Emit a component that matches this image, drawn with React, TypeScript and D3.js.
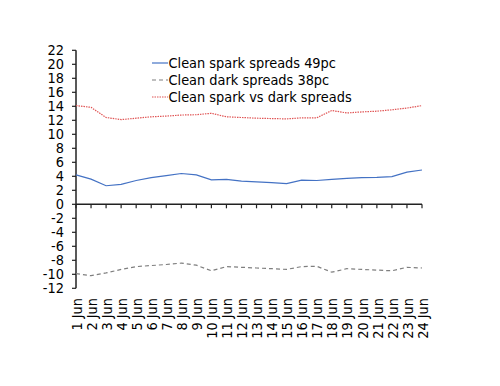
import React from "react";
import * as d3 from "d3";

const categories = ["1 Jun","2 Jun","3 Jun","4 Jun","5 Jun","6 Jun","7 Jun","8 Jun","9 Jun","10 Jun","11 Jun","12 Jun","13 Jun","14 Jun","15 Jun","16 Jun","17 Jun","18 Jun","19 Jun","20 Jun","21 Jun","22 Jun","23 Jun","24 Jun"];
const sparkSpreads = [4.2,3.6,2.65,2.85,3.4,3.8,4.1,4.4,4.2,3.5,3.55,3.3,3.2,3.1,2.95,3.45,3.4,3.55,3.7,3.8,3.85,3.95,4.6,4.9];
const darkSpreads = [-9.9,-10.2,-9.8,-9.3,-8.9,-8.75,-8.6,-8.4,-8.7,-9.5,-8.9,-9.0,-9.1,-9.2,-9.3,-8.9,-8.85,-9.7,-9.2,-9.3,-9.4,-9.5,-9.0,-9.1];
const sparkVsDark = [14.1,13.85,12.4,12.1,12.3,12.5,12.6,12.75,12.8,13.0,12.5,12.4,12.3,12.25,12.2,12.35,12.35,13.4,13.05,13.2,13.3,13.5,13.75,14.1];
const yTicks = d3.range(-12, 23, 2);
const seriesNames = ["Clean spark spreads 49pc","Clean dark spreads 38pc","Clean spark vs dark spreads"];

const FONT = "'DejaVu Sans Condensed', 'DejaVu Sans', sans-serif";
const FS = 14.4;

export default function App() {
  const x = d3.scalePoint<string>().domain(categories).range([76, 422]);
  const y = d3.scaleLinear().domain([-12, 22]).range([288.3, 50.3]);
  const line = d3.line<number>().x((_, i) => x(categories[i]) as number).y((d) => y(d));
  const series = [
    { name: seriesNames[0], data: sparkSpreads, color: "#4472C4", dash: undefined, w: 1.2 },
    { name: seriesNames[1], data: darkSpreads, color: "#7f7f7f", dash: "4,3", w: 1.2 },
    { name: seriesNames[2], data: sparkVsDark, color: "#e05555", dash: "1.5,1", w: 1.2 },
  ];
  const axisColor = "#222";
  return (
    <svg width={500} height={386} style={{ position: "absolute", left: 0, top: 0, background: "#fff" }} fontFamily={FONT} fontStretch="condensed">
      {/* y axis */}
      <line x1={76} x2={76} y1={y(22)} y2={y(-12)} stroke={axisColor} strokeWidth={1.5} />
      {yTicks.map((t) => (
        <g key={t}>
          <line x1={72} x2={76} y1={y(t)} y2={y(t)} stroke={axisColor} strokeWidth={1.2} />
          <text x={64} y={y(t)} dy="0.36em" textAnchor="end" fontSize={FS} fill="#000">{t}</text>
        </g>
      ))}
      {/* x axis at zero */}
      <line x1={76} x2={422} y1={y(0)} y2={y(0)} stroke={axisColor} strokeWidth={1.5} />
      {categories.map((c) => (
        <g key={c}>
          <line x1={x(c)} x2={x(c)} y1={y(0)} y2={y(0) + 4} stroke={axisColor} strokeWidth={1.2} />
          <text transform={`translate(${(x(c) as number) + 0.5},298) rotate(-90)`} dy="0.36em" textAnchor="end" fontSize={FS} fill="#000">{c}</text>
        </g>
      ))}
      {series.map((s) => (
        <path key={s.name} d={line(s.data) || ""} fill="none" stroke={s.color} strokeWidth={s.w} strokeDasharray={s.dash} />
      ))}
      {/* legend */}
      {series.map((s, i) => (
        <g key={s.name} transform={`translate(152,${63 + i * 17})`}>
          <line x1={0} x2={16} y1={0} y2={0} stroke={s.color} strokeWidth={s.w} strokeDasharray={s.dash} />
          <text x={16.5} y={0} dy="0.36em" fontSize={FS} fill="#000">{s.name}</text>
        </g>
      ))}
    </svg>
  );
}
